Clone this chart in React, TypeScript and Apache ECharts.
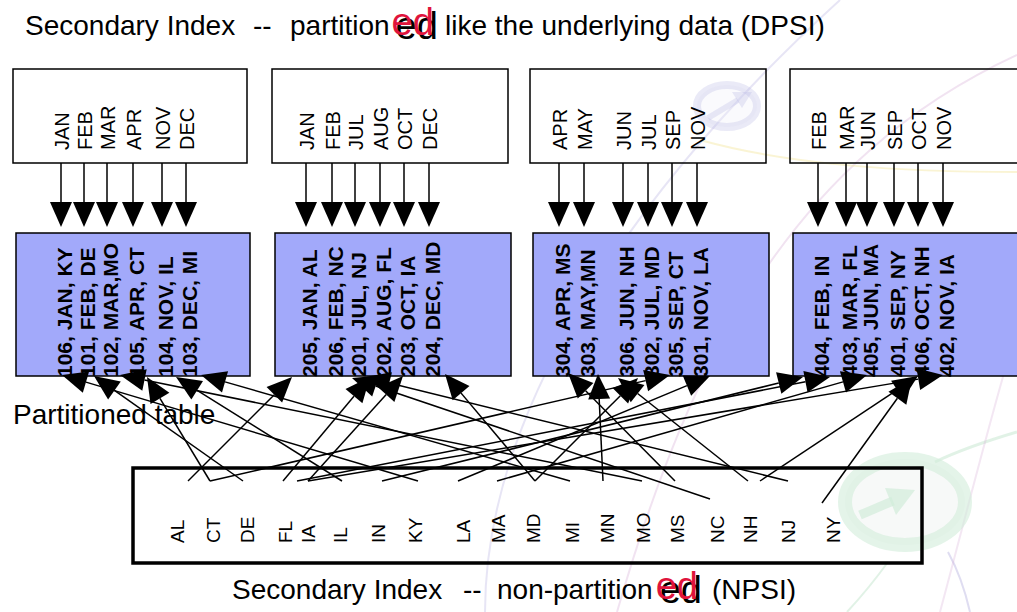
import React, { useEffect, useRef } from "react";
import * as echarts from "echarts";

// ---------- content ----------
const TITLE_PARTS = ["Secondary Index", "--", "partition", "ed", "like the underlying data (DPSI)"];
const CAPTION_PARTS = ["Secondary Index", "--", "non-partition", "ed", "(NPSI)"];
const TABLE_LABEL = "Partitioned table";

const PARTITION_MONTHS = [
  ["JAN", "FEB", "MAR", "APR", "NOV", "DEC"],
  ["JAN", "FEB", "JUL", "AUG", "OCT", "DEC"],
  ["APR", "MAY", "JUN", "JUL", "SEP", "NOV"],
  ["FEB", "MAR", "JUN", "SEP", "OCT", "NOV"],
];

const PARTITION_ROWS = [
  ["106, JAN, KY", "101, FEB, DE", "102, MAR,MO", "105, APR, CT", "104, NOV, IL", "103, DEC, MI"],
  ["205, JAN, AL", "206, FEB, NC", "201, JUL, NJ", "202, AUG, FL", "203, OCT, IA", "204, DEC, MD"],
  ["304, APR, MS", "303, MAY,MN", "306, JUN, NH", "302, JUL, MD", "305, SEP, CT", "301, NOV, LA"],
  ["404, FEB, IN", "403, MAR, FL", "405, JUN, MA", "401, SEP, NY", "406, OCT, NH", "402, NOV, IA"],
];

const STATES = ["AL", "CT", "DE", "FL", "IA", "IL", "IN", "KY", "LA", "MA", "MD", "MI", "MN", "MO", "MS", "NC", "NH", "NJ", "NY"];

// ---------- layout ----------
const FONT = '"Liberation Sans", Arial, Helvetica, sans-serif';
const WHITE_TOP = 69;
const WHITE_BOTTOM = 163;
const BLUE_TOP = 233;
const BLUE_BOTTOM = 376;
const BOX_LEFT = [13, 272, 530, 790];
const BOX_RIGHT = [247, 508, 766, 1040];
const BLUE_SHIFT = 3;
const COL_X = [
  [61, 84, 107, 133, 162, 186],
  [306, 332, 355, 380, 404, 429],
  [559, 584, 623, 648, 672, 697],
  [818, 846, 867, 894, 918, 943],
];
const STATE_X = [177, 213, 247, 285, 308, 340, 378, 415, 463, 498, 533, 572, 607, 643, 677, 717, 750, 788, 833];
const NPSI_BOX = { x0: 133, y0: 468, x1: 922, y1: 563 };

// start (in the NPSI box) and tip (at the partition) of every index pointer, per row
const LINK_START = [
  [[418, 481], [243, 481], [642, 481], [210, 481], [342, 481], [570, 481]],
  [[188, 481], [710, 499], [788, 481], [283, 481], [308, 481], [535, 481]],
  [[675, 481], [603, 481], [748, 481], [535, 481], [210, 481], [458, 481]],
  [[382, 481], [297, 481], [497, 481], [822, 503], [760, 481], [308, 481]],
];
const LINK_TIP = [
  [[62, 375], [94, 376], [120, 375], [147, 377], [176, 377], [201, 375]],
  [[292, 377], [352, 378], [365, 377], [370, 377], [403, 376], [445, 374]],
  [[568, 373], [598, 374], [618, 378], [638, 378], [670, 375], [710, 376]],
  [[803, 377], [830, 377], [867, 375], [912, 378], [918, 376], [943, 375]],
];

const BLUE_FILL = "#a2a9fa";
const RED = "#e0143c";

// ---------- helpers ----------
function measure(text: string, font: string): number {
  const c = document.createElement("canvas").getContext("2d")!;
  c.font = font;
  return c.measureText(text).width;
}

function arrow(x1: number, y1: number, x2: number, y2: number, L = 25, W = 22, lw = 1.5): any[] {
  const dx = x2 - x1;
  const dy = y2 - y1;
  const len = Math.hypot(dx, dy);
  const ux = dx / len;
  const uy = dy / len;
  const bx = x2 - ux * L;
  const by = y2 - uy * L;
  const nx = -uy;
  const ny = ux;
  return [
    { type: "line", z: 10, shape: { x1, y1, x2: bx, y2: by }, style: { stroke: "#000", lineWidth: lw } },
    {
      type: "polygon",
      z: 11,
      shape: { points: [[x2, y2], [bx + (nx * W) / 2, by + (ny * W) / 2], [bx - (nx * W) / 2, by - (ny * W) / 2]] },
      style: { fill: "#000" },
    },
  ];
}

function txt(text: string, x: number, y: number, font: string, fill = "#000", rotation = 0, align = "left", z = 12): any {
  return {
    type: "text",
    x,
    y,
    rotation,
    z,
    style: {
      text,
      font,
      fill,
      align,
      verticalAlign: "middle",
      textAlign: align,
      textVerticalAlign: "middle",
    },
  };
}

function buildOption(): any {
  const els: any[] = [];

  // faint watermark
  const wm = (o: any) => els.push({ ...o, z: 1, silent: true });
  wm({ type: "bezierCurve", shape: { x1: 485, y1: 612, cpx1: 485, cpy1: 420, cpx2: 620, cpy2: 200, x2: 840, y2: 0 }, style: { stroke: "rgba(185,180,225,0.35)", lineWidth: 2, fill: "none" } });
  wm({ type: "bezierCurve", shape: { x1: 617, y1: 612, cpx1: 690, cpy1: 360, cpx2: 790, cpy2: 160, x2: 1017, y2: 55 }, style: { stroke: "rgba(215,175,215,0.35)", lineWidth: 2, fill: "none" } });
  wm({ type: "bezierCurve", shape: { x1: 700, y1: 140, cpx1: 790, cpy1: 165, cpx2: 900, cpy2: 172, x2: 1017, y2: 172 }, style: { stroke: "rgba(245,230,160,0.45)", lineWidth: 2, fill: "none" } });
  wm({ type: "bezierCurve", shape: { x1: 935, y1: 462, cpx1: 960, cpy1: 450, cpx2: 990, cpy2: 440, x2: 1017, y2: 432 }, style: { stroke: "rgba(200,232,210,0.55)", lineWidth: 3, fill: "none" } });
  wm({ type: "bezierCurve", shape: { x1: 888, y1: 562, cpx1: 875, cpy1: 580, cpx2: 860, cpy2: 598, x2: 847, y2: 612 }, style: { stroke: "rgba(200,232,210,0.55)", lineWidth: 2, fill: "none" } });
  wm({ type: "bezierCurve", shape: { x1: 948, y1: 552, cpx1: 958, cpy1: 570, cpx2: 965, cpy2: 590, x2: 970, y2: 612 }, style: { stroke: "rgba(185,180,225,0.45)", lineWidth: 2, fill: "none" } });
  wm({ type: "bezierCurve", shape: { x1: 940, y1: 612, cpx1: 970, cpy1: 500, cpx2: 1000, cpy2: 380, x2: 1017, y2: 330 }, style: { stroke: "rgba(215,175,215,0.3)", lineWidth: 2, fill: "none" } });
  wm({ type: "ellipse", shape: { cx: 727, cy: 106, rx: 30, ry: 21 }, style: { stroke: "rgba(185,185,228,0.3)", lineWidth: 8, fill: "rgba(240,240,250,0.3)" } });
  wm({ type: "line", shape: { x1: 708, y1: 118, x2: 738, y2: 100 }, style: { stroke: "rgba(185,185,228,0.3)", lineWidth: 6 } });
  wm({ type: "polygon", shape: { points: [[752, 92], [732, 92], [742, 108]] }, style: { fill: "rgba(185,185,228,0.3)" } });
  wm({ type: "ellipse", shape: { cx: 905, cy: 502, rx: 60, ry: 43 }, style: { stroke: "rgba(210,236,218,0.6)", lineWidth: 14, fill: "rgba(242,245,243,0.6)" } });
  wm({ type: "line", shape: { x1: 860, y1: 515, x2: 893, y2: 501 }, style: { stroke: "rgba(210,236,218,0.7)", lineWidth: 9 } });
  wm({ type: "polygon", shape: { points: [[915, 490], [885, 488], [896, 515]] }, style: { fill: "rgba(210,236,218,0.7)" } });

  // titles
  const bigFont = `28px ${FONT}`;
  const edFont = `38px ${FONT}`;
  els.push(txt(TITLE_PARTS[0], 25, 25.3, bigFont));
  els.push(txt(TITLE_PARTS[1], 253, 25.3, bigFont));
  els.push(txt(TITLE_PARTS[2], 290, 25.3, bigFont));
  const tEd = 290 + measure(TITLE_PARTS[2], bigFont) + 6;
  els.push(txt(TITLE_PARTS[3], tEd, 26, edFont));
  els.push(txt(TITLE_PARTS[3], tEd - 4, 22, edFont, RED, 0, "left", 13));
  els.push(txt(TITLE_PARTS[4], 445, 25.3, bigFont));

  const capY = 589;
  els.push(txt(CAPTION_PARTS[0], 232, capY, bigFont));
  els.push(txt(CAPTION_PARTS[1], 463, capY, bigFont));
  els.push(txt(CAPTION_PARTS[2], 497, capY, bigFont));
  const cEd = 497 + measure(CAPTION_PARTS[2], bigFont) + 7;
  els.push(txt(CAPTION_PARTS[3], cEd, capY + 1, edFont));
  els.push(txt(CAPTION_PARTS[3], cEd - 4, capY - 3, edFont, RED, 0, "left", 13));
  els.push(txt(CAPTION_PARTS[4], 712, capY, bigFont));

  els.push(txt(TABLE_LABEL, 13, 414, bigFont, "#000", 0, "left", 9));

  const monthFont = `20px ${FONT}`;
  const stateFont = `19px ${FONT}`;
  const rowFont = `bold 21px ${FONT}`;

  PARTITION_MONTHS.forEach((months, b) => {
    // white (index) box
    els.push({
      type: "rect",
      z: 5,
      shape: { x: BOX_LEFT[b], y: WHITE_TOP, width: BOX_RIGHT[b] - BOX_LEFT[b], height: WHITE_BOTTOM - WHITE_TOP },
      style: { fill: "none", stroke: "#000", lineWidth: 1.5 },
    });
    // blue (data) box
    els.push({
      type: "rect",
      z: 5,
      shape: {
        x: BOX_LEFT[b] + BLUE_SHIFT,
        y: BLUE_TOP,
        width: BOX_RIGHT[b] - BOX_LEFT[b],
        height: BLUE_BOTTOM - BLUE_TOP,
      },
      style: { fill: BLUE_FILL, stroke: "#000", lineWidth: 1.5 },
    });
    months.forEach((m, i) => {
      const x = COL_X[b][i];
      els.push(txt(m, x + 1, 150, monthFont, "#000", Math.PI / 2));
      els.push(...arrow(x, WHITE_BOTTOM, x, 227, 25, 22));
    });
    PARTITION_ROWS[b].forEach((row, i) => {
      const x = COL_X[b][i];
      els.push(txt(row, x + 3, 377, rowFont, "#000", Math.PI / 2));
      const [sx, sy] = LINK_START[b][i];
      const [tx, ty] = LINK_TIP[b][i];
      els.push(...arrow(sx, sy, tx, ty, 25, 22));
    });
  });

  // NPSI box
  els.push({
    type: "rect",
    z: 6,
    shape: { x: NPSI_BOX.x0, y: NPSI_BOX.y0, width: NPSI_BOX.x1 - NPSI_BOX.x0, height: NPSI_BOX.y1 - NPSI_BOX.y0 },
    style: { fill: "none", stroke: "#000", lineWidth: 3.5 },
  });
  STATES.forEach((s, i) => {
    els.push(txt(s, STATE_X[i], 543, stateFont, "#000", Math.PI / 2));
  });

  return {
    animation: false,
    backgroundColor: "#ffffff",
    graphic: { elements: els },
  };
}

export default function App() {
  const ref = useRef<HTMLDivElement>(null);
  useEffect(() => {
    document.body.style.margin = "0";
    const chart = echarts.init(ref.current!, null, { renderer: "svg" });
    chart.setOption(buildOption());
    return () => chart.dispose();
  }, []);
  return <div ref={ref} style={{ width: 1017, height: 612 }} />;
}
